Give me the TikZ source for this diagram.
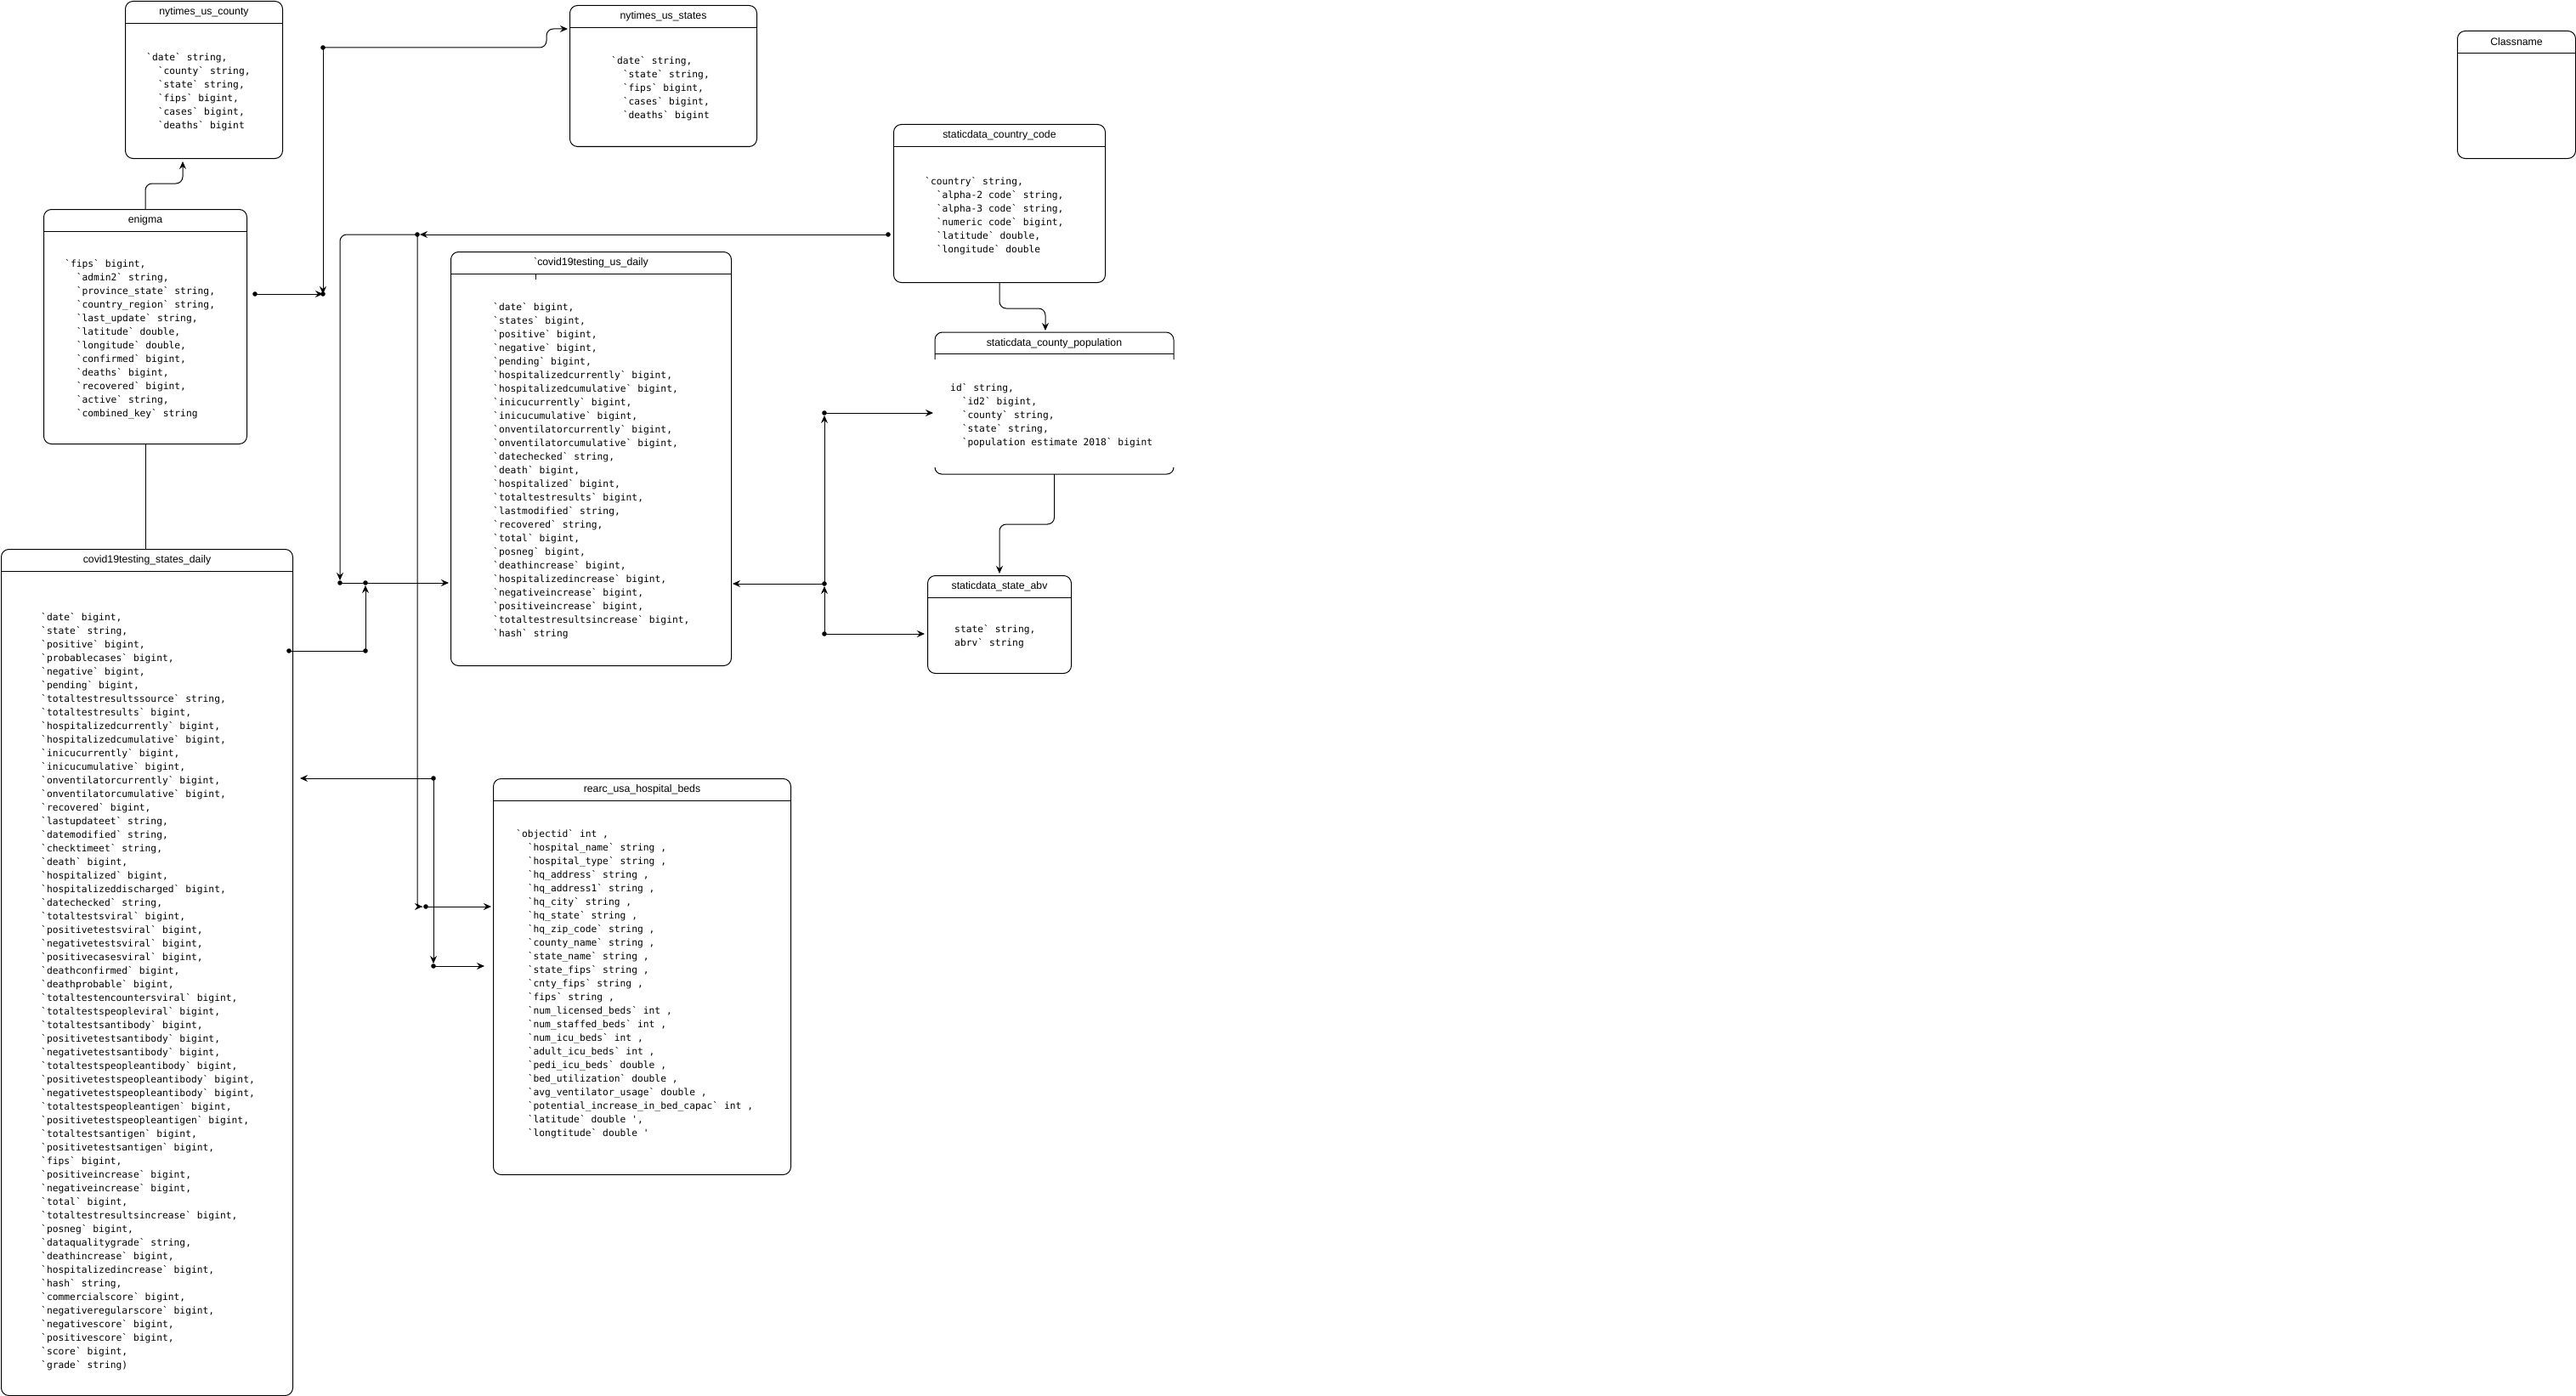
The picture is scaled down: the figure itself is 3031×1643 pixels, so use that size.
\documentclass[tikz,border=0pt]{standalone}
\usepackage{fontspec}
\setmainfont{Liberation Sans}
\setmonofont{DejaVu Sans Mono}
\usetikzlibrary{positioning,arrows.meta,calc}
\tikzset{tablebox/.style={draw,line width=1pt,rounded corners=9pt,inner sep=0pt,anchor=north west}}
\tikzset{tabletitle/.style={font={\fontsize{12.3}{14}\selectfont}}}
\tikzset{fields/.style={anchor=north west,inner sep=0pt,align=left,font={\ttfamily\fontsize{11.3}{16}\selectfont}}}
\tikzset{rule/.style={line width=0.9pt}}
\tikzset{link/.style={line width=1pt,>={Stealth[length=9pt,width=8pt,inset=3pt]}}}
\newcommand{\fieldindent}{\hspace*{13.6pt}}

\begin{document}
\begin{tikzpicture}[x=1pt,y=-1pt]
  \useasboundingbox (0,0) rectangle (3031,1643);

  % Tables
  \node[tablebox,minimum width=185pt,minimum height=185pt] (county) at (147,1) {};
  \node[tablebox,minimum width=220pt,minimum height=166pt] (states) at (670,6) {};
  \node[tablebox,minimum width=239pt,minimum height=276pt] (enigma) at (51,246) {};
  \node[tablebox,minimum width=343pt,minimum height=996pt] (statesdaily) at (1,646) {};
  \node[tablebox,minimum width=330pt,minimum height=487pt] (usdaily) at (530,296) {};
  \node[tablebox,minimum width=249pt,minimum height=186pt] (countrycode) at (1051,146) {};
  \node[tablebox,draw=none,minimum width=280pt,minimum height=166pt] (countypop) at (1100,391) {};
  \node[tablebox,minimum width=169pt,minimum height=115pt] (stateabv) at (1091,677) {};
  \node[tablebox,minimum width=350pt,minimum height=466pt] (beds) at (580,916) {};
  \node[tablebox,minimum width=139pt,minimum height=150pt] (classname) at (2891,36) {};

  % county population box is open at the sides
  \draw[line width=1pt,rounded corners=9pt] ([yshift=-32pt]countypop.north west) -- (countypop.north west)
    -- (countypop.north east) -- ([yshift=-32pt]countypop.north east);
  \draw[line width=1pt,rounded corners=8pt] ([yshift=8pt]countypop.south west) -- (countypop.south west)
    -- (countypop.south east) -- ([yshift=8pt]countypop.south east);
  \draw[rule] ([yshift=-25pt]countypop.north west) -- ([yshift=-25pt]countypop.north east);

  % Header lines and titles
  \foreach \t in {county,states,enigma,statesdaily,usdaily,countrycode,stateabv,beds,classname}
    \draw[rule] ([yshift=-26pt]\t.north west) -- ([yshift=-26pt]\t.north east);
  \foreach \t/\s in {county/nytimes\_us\_county,states/nytimes\_us\_states,enigma/enigma,
      statesdaily/covid19testing\_states\_daily,usdaily/\textasciigrave covid19testing\_us\_daily,
      countrycode/staticdata\_country\_code,countypop/staticdata\_county\_population,
      stateabv/staticdata\_state\_abv,beds/rearc\_usa\_hospital\_beds,classname/Classname}
    \node[tabletitle] (\t-title) at ([yshift=-13pt]\t.north) {\s};
  \draw[line width=0.8pt] ([xshift=100pt,yshift=-27pt]usdaily.north west) -- ++(0,6);

  % Fields
  \node[fields] (countyfields) at (172,60) {\strut`date` string,\\
    \fieldindent`county` string,\\ \fieldindent`state` string,\\ \fieldindent`fips` bigint,\\
    \fieldindent`cases` bigint,\\ \fieldindent`deaths` bigint};
  \node[fields] (statesfields) at (719,64) {\strut`date` string,\\
    \fieldindent`state` string,\\ \fieldindent`fips` bigint,\\
    \fieldindent`cases` bigint,\\ \fieldindent`deaths` bigint};
  \node[fields] (enigmafields) at (76,303) {\strut`fips` bigint,\\
    \fieldindent`admin2` string,\\ \fieldindent`province\_state` string,\\
    \fieldindent`country\_region` string,\\ \fieldindent`last\_update` string,\\
    \fieldindent`latitude` double,\\ \fieldindent`longitude` double,\\
    \fieldindent`confirmed` bigint,\\ \fieldindent`deaths` bigint,\\
    \fieldindent`recovered` bigint,\\ \fieldindent`active` string,\\
    \fieldindent`combined\_key` string};
  \node[fields] (statesdailyfields) at (48,719) {\strut`date` bigint,\\
    `state` string,\\ `positive` bigint,\\ `probablecases` bigint,\\ `negative` bigint,\\
    `pending` bigint,\\ `totaltestresultssource` string,\\ `totaltestresults` bigint,\\
    `hospitalizedcurrently` bigint,\\ `hospitalizedcumulative` bigint,\\
    `inicucurrently` bigint,\\ `inicucumulative` bigint,\\ `onventilatorcurrently` bigint,\\
    `onventilatorcumulative` bigint,\\ `recovered` bigint,\\ `lastupdateet` string,\\
    `datemodified` string,\\ `checktimeet` string,\\ `death` bigint,\\ `hospitalized` bigint,\\
    `hospitalizeddischarged` bigint,\\ `datechecked` string,\\ `totaltestsviral` bigint,\\
    `positivetestsviral` bigint,\\ `negativetestsviral` bigint,\\ `positivecasesviral` bigint,\\
    `deathconfirmed` bigint,\\ `deathprobable` bigint,\\ `totaltestencountersviral` bigint,\\
    `totaltestspeopleviral` bigint,\\ `totaltestsantibody` bigint,\\
    `positivetestsantibody` bigint,\\ `negativetestsantibody` bigint,\\
    `totaltestspeopleantibody` bigint,\\ `positivetestspeopleantibody` bigint,\\
    `negativetestspeopleantibody` bigint,\\ `totaltestspeopleantigen` bigint,\\
    `positivetestspeopleantigen` bigint,\\ `totaltestsantigen` bigint,\\
    `positivetestsantigen` bigint,\\ `fips` bigint,\\ `positiveincrease` bigint,\\
    `negativeincrease` bigint,\\ `total` bigint,\\ `totaltestresultsincrease` bigint,\\
    `posneg` bigint,\\ `dataqualitygrade` string,\\ `deathincrease` bigint,\\
    `hospitalizedincrease` bigint,\\ `hash` string,\\ `commercialscore` bigint,\\
    `negativeregularscore` bigint,\\ `negativescore` bigint,\\ `positivescore` bigint,\\
    `score` bigint,\\ `grade` string)};
  \node[fields] (usdailyfields) at (580,354) {\strut`date` bigint,\\
    `states` bigint,\\ `positive` bigint,\\ `negative` bigint,\\ `pending` bigint,\\
    `hospitalizedcurrently` bigint,\\ `hospitalizedcumulative` bigint,\\
    `inicucurrently` bigint,\\ `inicucumulative` bigint,\\ `onventilatorcurrently` bigint,\\
    `onventilatorcumulative` bigint,\\ `datechecked` string,\\ `death` bigint,\\
    `hospitalized` bigint,\\ `totaltestresults` bigint,\\ `lastmodified` string,\\
    `recovered` string,\\ `total` bigint,\\ `posneg` bigint,\\ `deathincrease` bigint,\\
    `hospitalizedincrease` bigint,\\ `negativeincrease` bigint,\\ `positiveincrease` bigint,\\
    `totaltestresultsincrease` bigint,\\ `hash` string};
  \node[fields] (countrycodefields) at (1088,206) {\strut`country` string,\\
    \fieldindent`alpha-2 code` string,\\ \fieldindent`alpha-3 code` string,\\
    \fieldindent`numeric code` bigint,\\ \fieldindent`latitude` double,\\
    \fieldindent`longitude` double};
  \node[fields] (countypopfields) at (1118,449) {\strut id` string,\\
    \fieldindent`id2` bigint,\\ \fieldindent`county` string,\\ \fieldindent`state` string,\\
    \fieldindent`population estimate 2018` bigint};
  \node[fields] (stateabvfields) at (1123,733) {\strut state` string,\\ abrv` string};
  \node[fields] (bedsfields) at (607,974) {\strut`objectid` int ,\\
    \fieldindent`hospital\_name` string ,\\ \fieldindent`hospital\_type` string ,\\
    \fieldindent`hq\_address` string ,\\ \fieldindent`hq\_address1` string ,\\
    \fieldindent`hq\_city` string ,\\ \fieldindent`hq\_state` string ,\\
    \fieldindent`hq\_zip\_code` string ,\\ \fieldindent`county\_name` string ,\\
    \fieldindent`state\_name` string ,\\ \fieldindent`state\_fips` string ,\\
    \fieldindent`cnty\_fips` string ,\\ \fieldindent`fips` string ,\\
    \fieldindent`num\_licensed\_beds` int ,\\ \fieldindent`num\_staffed\_beds` int ,\\
    \fieldindent`num\_icu\_beds` int ,\\ \fieldindent`adult\_icu\_beds` int ,\\
    \fieldindent`pedi\_icu\_beds` double ,\\ \fieldindent`bed\_utilization` double ,\\
    \fieldindent`avg\_ventilator\_usage` double ,\\
    \fieldindent`potential\_increase\_in\_bed\_capac` int ,\\
    \fieldindent`latitude` double ',\\ \fieldindent`longtitude` double '};

  % Junctions
  \coordinate (j1) at (380,56);
  \coordinate (j2) at (380,346);
  \coordinate (j3) at (300,346);
  \coordinate (cc) at (1045,276);
  \coordinate (j5) at (491,276);
  \coordinate (j6) at (400,686);
  \coordinate (j7) at (501,1067);
  \coordinate (j8) at (340,766);
  \coordinate (j9) at (430,766);
  \coordinate (j10) at (430,686);
  \coordinate (j11) at (510,916);
  \coordinate (j12) at (510,1137);
  \coordinate (k1) at (970,486);
  \coordinate (k2) at (970,687);
  \coordinate (k3) at (970,746);

  % Connectors
  \draw[link,->,rounded corners=8pt] (enigma.north) -- ++(0,-30) -| ($(county.south west)+(68,3)$);
  \draw[link] (enigma.south) -- (enigma.south |- statesdaily.north);
  \draw[link,->,rounded corners=8pt] (j1) -| ($(states.north west)+(-27,28)$) -- ($(states.north west)+(-2,28)$);
  \draw[link,->] (j1) -- (j2);
  \draw[link,->] (j3) -- (j2);
  \draw[link,->] (cc) -- ($(j5)+(3,0)$);
  \draw[link,->,rounded corners=8pt] (j5) -| ($(j6)+(0,-3)$);
  \draw[link,->,rounded corners=4pt] (j5) |- ($(j7)+(-4,0)$);
  \draw[link,->] (j7) -- ($(beds.north west)+(-2,151)$);
  \draw[link,->] (j6) -- ($(usdaily.north west)+(-2,390)$);
  \draw[link] (j8) -- (j9);
  \draw[link,->] (j9) -- ($(j10)+(0,3)$);
  \draw[link,->] (j11) -- ($(statesdaily.north east)+(8,270)$);
  \draw[link,->] (j11) -- ($(j12)+(0,-3)$);
  \draw[link,->] (j12) -- ($(beds.north west)+(-10,221)$);
  \draw[link,->] (k1) -- ($(countypop.north west)+(-2,95)$);
  \draw[link,->] (k2) -- ($(k1)+(0,3)$);
  \draw[link,->] (k2) -- ($(usdaily.north east)+(1,391)$);
  \draw[link,->] (k3) -- ($(k2)+(0,3)$);
  \draw[link,->] (k3) -- ($(stateabv.north west)+(-3,69)$);
  \draw[link,->,rounded corners=8pt] (countrycode.south) -- ++(0,30) -| ($(countypop.north west)+(130,-2)$);
  \draw[link,->,rounded corners=8pt] (countypop.south) -- ++(0,59) -| ($(stateabv.north)+(0,-2)$);

  \foreach \p in {j1,j2,j3,cc,j5,j6,j7,j8,j9,j10,j11,j12,k1,k2,k3}
    \fill (\p) circle (2.8pt);
\end{tikzpicture}
\end{document}
